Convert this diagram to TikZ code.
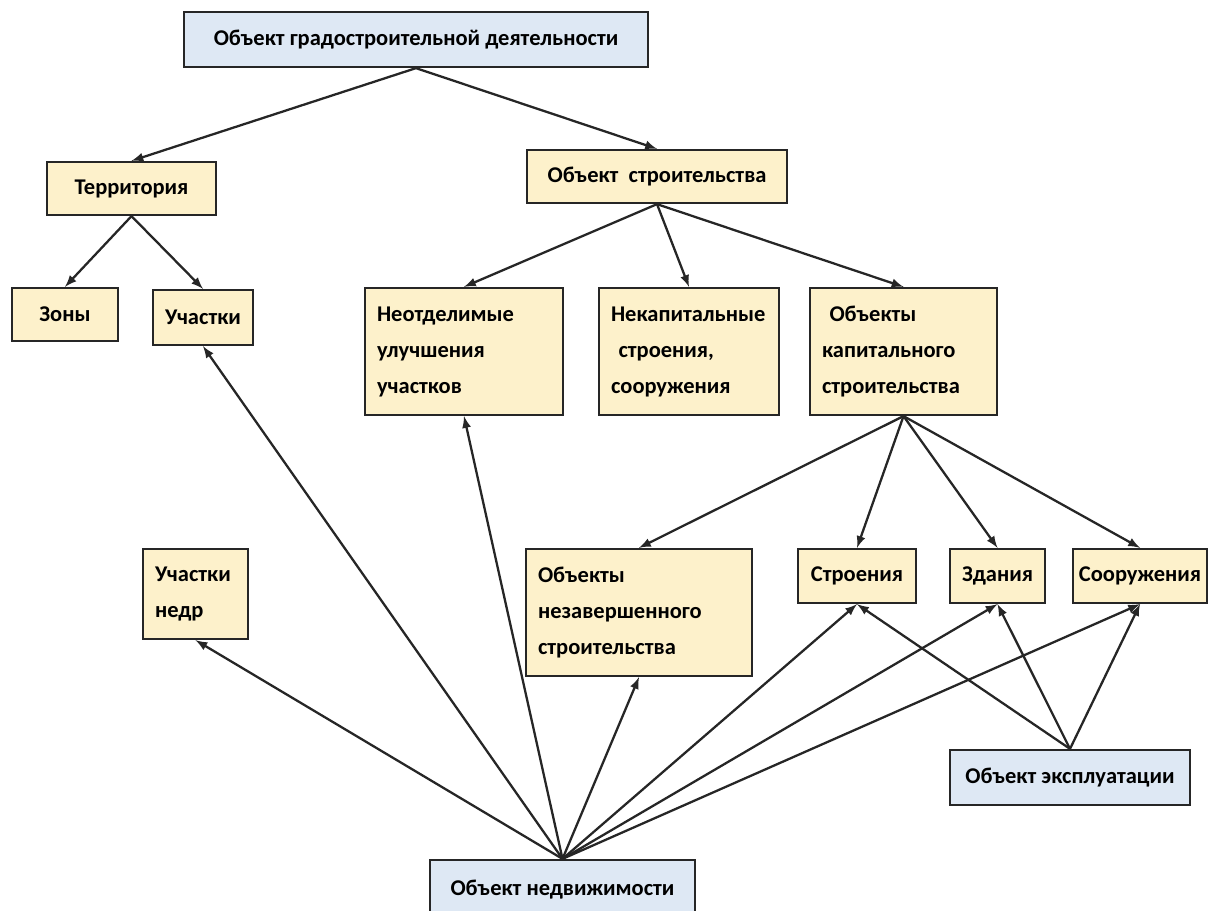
\documentclass[tikz,border=0pt]{standalone}
\usepackage{fontspec}
\setmainfont{Carlito}
\usepackage{tikz}
\usetikzlibrary{arrows}
\usepackage{xcolor}
\definecolor{boxyellow}{HTML}{FDF1CB}
\definecolor{boxblue}{HTML}{DEE8F4}
\definecolor{boxline}{HTML}{262626}

\begin{document}
\begin{tikzpicture}[x=0.02cm, y=-0.02cm,
	box/.style={draw=boxline, line width=1.3pt, fill=boxyellow, inner sep=0pt, align=center,
		font=\bfseries\fontsize{12.8}{20.5}\selectfont},
	bluebox/.style={box, fill=boxblue},
	textbox/.style={box, align=left, inner xsep=0.24cm},
	link/.style={-latex, line width=1.3pt, boxline}]
	\useasboundingbox (0,0) rectangle (1209,911);
	% top levels
	\node [bluebox, minimum width=9.28cm, minimum height=1.1cm] (grad) at (416,39.5) {Объект градостроительной деятельности};
	\node [box, minimum width=3.38cm, minimum height=1.06cm] (terr) at (131.5,188.5) {Территория};
	\node [box, minimum width=5.2cm, minimum height=1.06cm] (stroi) at (657,176.5) {Объект\ \ строительства};
	\node [box, minimum width=2.12cm, minimum height=1.06cm] (zony) at (65,314.5) {Зоны};
	\node [box, minimum width=2cm, minimum height=1.1cm] (uch) at (203,317.5) {Участки};
	\node [textbox, text width=3.48cm, minimum height=2.54cm] (neotd) at (464,351.5) {Неотделимые\\улучшения\\участков};
	\node [textbox, text width=3.12cm, minimum height=2.54cm] (nekap) at (689,351.5) {Некапитальные\\\ строения,\\сооружения};
	\node [textbox, text width=3.26cm, minimum height=2.54cm] (okap) at (903.5,351.5) {\ Объекты\\капитального\\строительства};
	% lower levels
	\node [textbox, text width=1.62cm, minimum height=1.8cm] (nedr) at (195.5,594) {Участки\\недр};
	\node [textbox, text width=4.04cm, minimum height=2.54cm] (nezav) at (639,612.5) {Объекты\\незавершенного\\строительства};
	\node [box, minimum width=2.36cm, minimum height=1.08cm] (stroen) at (857,576) {Строения};
	\node [box, minimum width=1.9cm, minimum height=1.08cm] (zdan) at (997.5,576) {Здания};
	\node [box, minimum width=2.68cm, minimum height=1.08cm] (soor) at (1140,576) {Сооружения};
	\node [bluebox, minimum width=4.8cm, minimum height=1.1cm] (expl) at (1070,777.5) {Объект эксплуатации};
	\node [bluebox, minimum width=5.3cm, minimum height=1.2cm] (nedv) at (562.5,890) {Объект недвижимости};
	% links
	\draw [link] (grad.south) -- (terr.north);
	\draw [link] (grad.south) -- (stroi.north);
	\draw [link] (terr.south) -- (zony.north);
	\draw [link] (terr.south) -- (uch.north);
	\draw [link] (stroi.south) -- (neotd.north);
	\draw [link] (stroi.south) -- (nekap.north);
	\draw [link] (stroi.south) -- (okap.north);
	\draw [link] (okap.south) -- (nezav.north);
	\draw [link] (okap.south) -- (stroen.north);
	\draw [link] (okap.south) -- (zdan.north);
	\draw [link] (okap.south) -- (soor.north);
	\draw [link] (nedv.north) -- (uch.south);
	\draw [link] (nedv.north) -- (neotd.south);
	\draw [link] (nedv.north) -- (nedr.south);
	\draw [link] (nedv.north) -- (nezav.south);
	\draw [link] (nedv.north) -- (stroen.south);
	\draw [link] (nedv.north) -- (zdan.south);
	\draw [link] (nedv.north) -- (soor.south);
	\draw [link] (expl.north) -- (stroen.south);
	\draw [link] (expl.north) -- (zdan.south);
	\draw [link] (expl.north) -- (soor.south);
\end{tikzpicture}
\end{document}
